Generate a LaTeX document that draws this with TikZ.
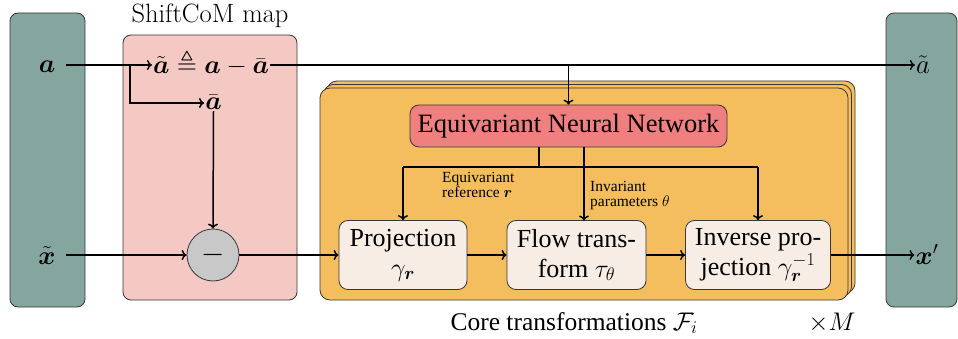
\RequirePackage{fix-cm}
\documentclass[tikz,border=0pt]{standalone}
\usepackage{amsmath,amssymb}
\usepackage{fontspec}
\setmainfont{Liberation Serif}
\newfontfamily\lmfont{Latin Modern Roman}
\usetikzlibrary{arrows.meta,calc}
\definecolor{tealc}{RGB}{133,166,158}
\definecolor{pinkc}{RGB}{245,201,195}
\definecolor{orangec}{RGB}{244,190,95}
\definecolor{ennc}{RGB}{240,128,128}
\definecolor{creamc}{RGB}{247,237,228}
\definecolor{greyc}{RGB}{200,200,200}
\definecolor{bordc}{RGB}{55,55,55}
\begin{document}
\begin{tikzpicture}[x=1pt,y=-1pt,
  panel/.style={draw=bordc, line width=0.8pt, rounded corners=8pt},
  stackbox/.style={draw=bordc, line width=0.8pt, rounded corners=10pt, fill=orangec},
  stepbox/.style={draw=bordc, line width=0.8pt, rounded corners=9pt, fill=creamc,
     minimum height=69pt, inner sep=0pt, align=center,
     font=\fontsize{26}{30}\selectfont},
  conn/.style={line width=1.5pt, -{To[length=5pt,width=10pt]}},
  link/.style={line width=1.5pt},
  mathlbl/.style={font=\fontsize{26}{30}\selectfont, inner sep=1pt},
  smalllbl/.style={font=\fontsize{15.5}{15}\selectfont, align=left, inner sep=0pt, anchor=base west}
]
\useasboundingbox (0,0) rectangle (958,339);
% side panels
\draw[panel, fill=tealc] (10,13) rectangle (85,307);
\draw[panel, fill=tealc] (886,13) rectangle (957,307);
% ShiftCoM panel
\draw[panel, fill=pinkc] (123,35) rectangle (297,300);
\node[font=\lmfont\fontsize{26.5}{28}\selectfont, anchor=base] (shiftlbl) at (210,23) {ShiftCoM map};
% stacked core boxes
\draw[stackbox] (327,81) rectangle (855,293);
\draw[stackbox] (323.5,84.5) rectangle (851.5,296.5);
\draw[stackbox] (320,88) rectangle (848,300);
% labels left
\node[mathlbl, anchor=base] (la) at (47,73) {$\boldsymbol a$};
\node[mathlbl, anchor=base] (lx) at (47,264) {$\tilde{\boldsymbol x}$};
\coordinate (ya) at (66,65);
\coordinate (yx) at (66,255);
% equation and abar
\node[mathlbl, anchor=base west] (eq) at (152,74) {$\tilde{\boldsymbol a} \triangleq \boldsymbol a - \bar{\boldsymbol a}$};
\node[mathlbl, anchor=base] (abar) at (213.5,110) {$\bar{\boldsymbol a}$};
\node[circle, draw=bordc, line width=0.8pt, fill=greyc, minimum size=52pt, inner sep=0pt,
  font=\fontsize{30}{30}\selectfont] (minus) at (213,255) {$-$};
% right labels
\node[mathlbl, anchor=base, font=\fontsize{27}{30}\selectfont] (ra) at (923,74) {$\tilde a$};
\node[mathlbl, anchor=base] (rx) at (927,264) {$\boldsymbol x'$};
% ENN
\node[draw=bordc, line width=0.8pt, rounded corners=9pt, fill=ennc, minimum width=317pt,
  minimum height=42pt, inner sep=0pt, font=\fontsize{26.5}{28}\selectfont] (enn) at (568.5,126) {Equivariant Neural Network};
% steps
\node[stepbox, minimum width=128pt] (proj) at (403,255) {Projection\\$\gamma_{\boldsymbol r}$};
\node[stepbox, minimum width=139pt] (flow) at (576.5,255) {Flow trans-\\form $\tau_\theta$};
\node[stepbox, minimum width=145pt] (inv) at (758,255) {Inverse pro-\\jection $\gamma_{\boldsymbol r}^{-1}$};
% connectors in ShiftCoM
\coordinate (br) at (130,65);
\draw[conn] (ya) -- (ya -| eq.west);
\draw[conn] (br) |- (abar.west |- 0,103);
\draw[conn] (abar.south) -- (minus.north);
\draw[conn] (yx) -- (minus.west);
\draw[conn] (minus.east) -- (minus.east -| proj.west);
% top line to right
\draw[conn] (ya -| eq.east) -- (ya -| ra.west);
\coordinate (split) at (ya -| enn.north);
\draw[conn] (split) -- (enn.north);
% ENN branches
\coordinate (s1) at (539,147);
\coordinate (hl) at (403,167);
\coordinate (hr) at (757,167);
\draw[link] (s1) -- (s1 |- hl);
\draw[link] (hl -| proj.north) -- (hr -| inv.north);
\draw[conn] (hl -| proj.north) -- (proj.north);
\draw[conn] (hr -| inv.north) -- (inv.north);
\draw[conn] (584,147) -- (584,220.5);
% small labels
\node[smalllbl] (eqref) at (442,198) {Equivariant\\reference $\boldsymbol r$};
\node[smalllbl] (invpar) at (590,207) {Invariant\\parameters $\theta$};
% step arrows
\draw[conn] (proj.east) -- (flow.west);
\draw[conn] (flow.east) -- (inv.west);
\draw[conn] (inv.east) -- (inv.east -| rx.west);
% bottom labels
\node[font=\fontsize{25.5}{28}\selectfont, anchor=base west] (core) at (447,330) {Core transformations $\mathcal F_i$};
\node[font=\fontsize{25.5}{28}\selectfont, anchor=base] (times) at (832,330) {$\times M$};
\end{tikzpicture}
\end{document}
